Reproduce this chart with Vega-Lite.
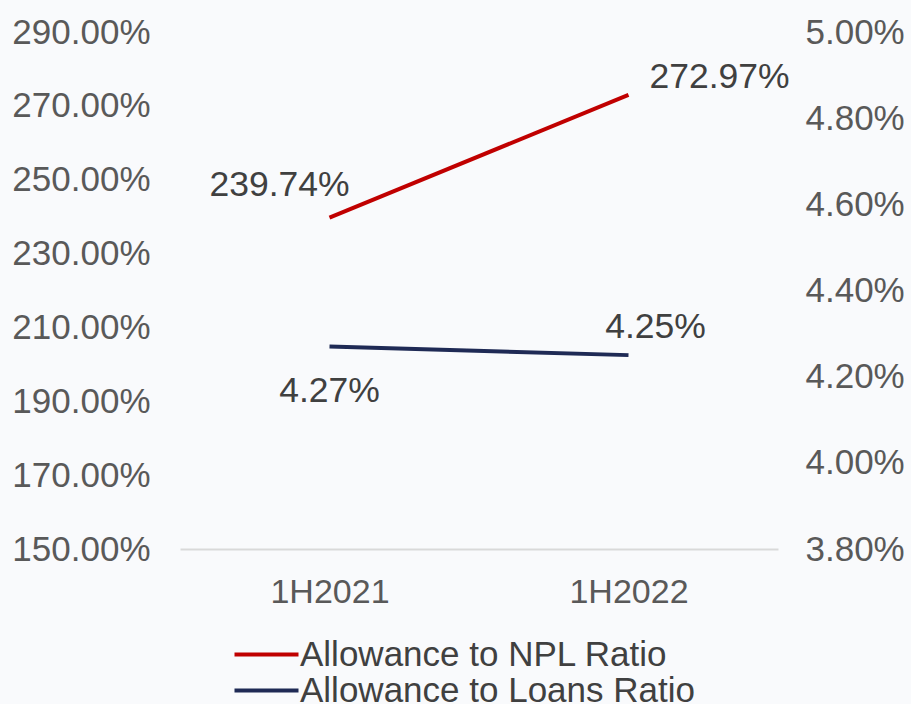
{
  "$schema": "https://vega.github.io/schema/vega-lite/v6.json",
  "width": 598,
  "height": 517,
  "autosize": {"type": "none"},
  "padding": {"left": 180, "top": 32, "right": 133, "bottom": 155},
  "background": "#f9fafc",
  "config": {
    "view": {"stroke": null},
    "font": "Liberation Sans",
    "axis": {"labelFont": "Liberation Sans", "labelFontSize": 35, "labelColor": "#595959", "grid": false, "ticks": false, "title": null},
    "legend": {"labelFont": "Liberation Sans"}
  },
  "data": {
    "values": [
      {"period": "1H2021", "series": "Allowance to NPL Ratio", "value": 2.3974},
      {"period": "1H2022", "series": "Allowance to NPL Ratio", "value": 2.7297},
      {"period": "1H2021", "series": "Allowance to Loans Ratio", "value": 0.0427},
      {"period": "1H2022", "series": "Allowance to Loans Ratio", "value": 0.0425}
    ]
  },
  "encoding": {
    "x": {
      "field": "period",
      "type": "ordinal",
      "scale": {"type": "point", "padding": 0.5},
      "axis": {"labelAngle": 0, "domain": true, "domainColor": "#d9d9d9", "domainWidth": 2, "labelPadding": 26, "labelFontSize": 34}
    }
  },
  "layer": [
    {
      "transform": [{"filter": "datum.series === 'Allowance to NPL Ratio'"}],
      "encoding": {
        "y": {
          "field": "value",
          "type": "quantitative",
          "scale": {"domain": [1.5, 2.9], "nice": false, "zero": false},
          "axis": {"orient": "left", "values": [1.5, 1.7, 1.9, 2.1, 2.3, 2.5, 2.7, 2.9], "format": ".2%", "domain": false, "labelPadding": 30}
        }
      },
      "layer": [
        {
          "mark": {"type": "line", "strokeWidth": 4},
          "encoding": {
            "color": {
              "field": "series",
              "type": "nominal",
              "scale": {"domain": ["Allowance to NPL Ratio", "Allowance to Loans Ratio"], "range": ["#c00000", "#1f2a55"]},
              "legend": {"orient": "none", "legendX": 69, "legendY": 605, "direction": "vertical", "title": null, "symbolType": "M-4,0H4", "symbolSize": 256, "symbolStrokeWidth": 4, "labelFontSize": 35, "labelColor": "#404040", "labelLimit": 0, "rowPadding": 0, "labelOffset": 16, "padding": 0}
            }
          }
        },
        {
          "transform": [{"filter": "datum.period === '1H2021'"}],
          "mark": {"type": "text", "fontSize": 35.5, "color": "#404040", "dx": -50, "dy": -33},
          "encoding": {"text": {"field": "value", "format": ".2%"}}
        },
        {
          "transform": [{"filter": "datum.period === '1H2022'"}],
          "mark": {"type": "text", "fontSize": 35.5, "color": "#404040", "align": "left", "dx": 21, "dy": -18},
          "encoding": {"text": {"field": "value", "format": ".2%"}}
        }
      ]
    },
    {
      "transform": [{"filter": "datum.series === 'Allowance to Loans Ratio'"}],
      "encoding": {
        "y": {
          "field": "value",
          "type": "quantitative",
          "scale": {"domain": [0.038, 0.05], "nice": false, "zero": false},
          "axis": {"orient": "right", "values": [0.038, 0.04, 0.042, 0.044, 0.046, 0.048, 0.05], "format": ".2%", "domain": false, "labelPadding": 27}
        }
      },
      "layer": [
        {
          "mark": {"type": "line", "strokeWidth": 4},
          "encoding": {"color": {"field": "series", "type": "nominal"}}
        },
        {
          "transform": [{"filter": "datum.period === '1H2021'"}],
          "mark": {"type": "text", "fontSize": 35.5, "color": "#404040", "dx": 0, "dy": 44},
          "encoding": {"text": {"field": "value", "format": ".2%"}}
        },
        {
          "transform": [{"filter": "datum.period === '1H2022'"}],
          "mark": {"type": "text", "fontSize": 35.5, "color": "#404040", "dx": 27, "dy": -28},
          "encoding": {"text": {"field": "value", "format": ".2%"}}
        }
      ]
    }
  ],
  "resolve": {"scale": {"y": "independent"}}
}
